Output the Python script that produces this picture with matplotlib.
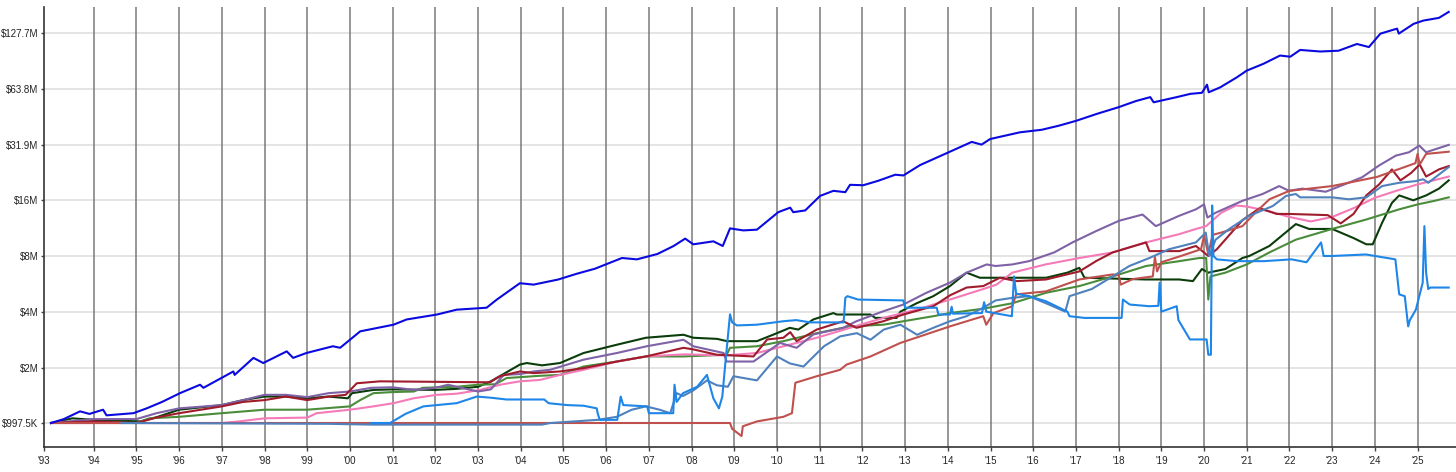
import matplotlib
matplotlib.use("Agg")
import matplotlib.pyplot as plt
import numpy as np

plt.rcParams['font.family'] = ['Liberation Sans', 'DejaVu Sans']

# ---------------- data (values in $ millions) ----------------
blue_t = [1993.0, 1993.3, 1993.68, 1993.9, 1994.22, 1994.3, 1994.93, 1995.24, 1995.6, 1996.02, 1996.49, 1996.57,
          1997.27, 1997.3, 1997.74, 1997.97, 1998.52, 1998.67, 1998.98, 1999.6, 1999.77, 2000.24, 2001.02, 2001.33,
          2002.04, 2002.5, 2003.2, 2003.44, 2003.98, 2004.3, 2004.88, 2005.3, 2005.74, 2006.37, 2006.72, 2007.2,
          2007.58, 2007.85, 2008.04, 2008.51, 2008.73, 2008.9, 2009.21, 2009.53, 2010.03, 2010.31, 2010.38, 2010.66,
          2011.01, 2011.32, 2011.6, 2011.71, 2012.02, 2012.37, 2012.77, 2012.96, 2013.35, 2014.05, 2014.56, 2014.79,
          2014.99, 2015.69, 2016.2, 2016.6, 2017.0, 2017.5, 2018.0, 2018.4, 2018.74, 2018.82, 2019.36, 2019.68,
          2019.95, 2020.07, 2020.11, 2020.38, 2020.77, 2021.0, 2021.39, 2021.78, 2022.02, 2022.25, 2022.72, 2023.15,
          2023.58, 2023.86, 2024.13, 2024.52, 2024.56, 2024.91, 2025.14, 2025.5, 2025.73]
blue_v = [1.0, 1.05, 1.156, 1.12, 1.18, 1.10, 1.13, 1.2, 1.3, 1.45, 1.61, 1.55,
          1.9, 1.82, 2.25, 2.11, 2.44, 2.25, 2.39, 2.6, 2.55, 3.13, 3.4, 3.63,
          3.86, 4.1, 4.2, 4.65, 5.7, 5.6, 5.97, 6.4, 6.83, 7.8, 7.67, 8.2,
          9.06, 9.93, 9.25, 9.6, 9.06, 11.28, 11.0, 11.1, 13.8, 14.6, 13.8, 14.1,
          16.9, 18.0, 17.7, 19.4, 19.3, 20.4, 22.0, 21.8, 24.8, 29.3, 33.1, 32.0,
          34.3, 37.3, 38.5, 40.5, 43.0, 47.0, 51.0, 55.0, 57.8, 54.2, 57.8, 60.2,
          61.0, 67.5, 61.4, 65.3, 74.0, 80.4, 87.5, 97.0, 95.6, 104.0, 102.0, 103.0,
          112.0, 107.8, 127.4, 135.6, 127.4, 144.0, 150.0, 155.0, 167.0]

purple_t = [1993.0, 1994.0, 1995.0, 1995.47, 1996.0, 1997.0, 1997.5, 1998.0, 1998.5, 1999.0, 1999.5, 2000.0,
            2000.5, 2001.0, 2001.5, 2002.0, 2002.3, 2002.6, 2003.0, 2003.3, 2003.6, 2004.0, 2004.3, 2004.69,
            2005.47, 2006.25, 2006.95, 2007.81, 2008.04, 2008.75, 2008.82, 2009.45, 2010.07, 2010.46, 2010.85,
            2011.55, 2011.86, 2012.49, 2012.96, 2013.5, 2014.05, 2014.44, 2014.91, 2015.12, 2015.51, 2015.9,
            2016.49, 2016.92, 2017.47, 2018.01, 2018.56, 2018.87, 2019.42, 2019.81, 2020.0, 2020.08, 2020.27,
            2020.9, 2021.37, 2021.76, 2021.99, 2022.3, 2022.85, 2023.31, 2023.7, 2024.09, 2024.49, 2024.8,
            2025.04, 2025.2, 2025.73]
purple_v = [1.0, 1.05, 1.05, 1.13, 1.2, 1.25, 1.33, 1.42, 1.42, 1.38, 1.45, 1.48,
            1.55, 1.56, 1.51, 1.55, 1.61, 1.55, 1.48, 1.52, 1.82, 1.84, 1.9, 1.94,
            2.2, 2.39, 2.6, 2.82, 2.6, 2.39, 2.15, 2.15, 2.71, 2.55, 3.01,
            3.27, 3.55, 4.02, 4.37, 5.06, 5.74, 6.5, 7.2, 7.06, 7.2, 7.5,
            8.36, 9.47, 10.9, 12.4, 13.4, 11.6, 13.2, 14.3, 15.2, 12.9, 13.7,
            15.9, 17.3, 19.1, 18.0, 18.5, 17.8, 19.6, 21.3, 24.6, 27.9, 29.1,
            31.6, 29.1, 31.9]

brick_t = [1993.0, 2008.9, 2008.95, 2009.17, 2009.2, 2009.53, 2010.15, 2010.35, 2010.43, 2010.93, 2011.48,
           2011.63, 2012.19, 2012.89, 2013.35, 2014.05, 2014.83, 2014.9, 2015.07, 2015.51, 2015.6, 2016.3,
           2017.08, 2017.86, 2018.0, 2018.05, 2018.33, 2018.8, 2018.85, 2018.9, 2019.0, 2019.46, 2019.93,
           2020.0, 2020.1, 2020.2, 2020.4, 2020.9, 2021.2, 2021.53, 2022.0, 2023.0, 2024.05, 2024.95, 2025.0,
           2025.05, 2025.2, 2025.73]
brick_v = [1.0, 1.0, 0.93, 0.85, 0.96, 1.02, 1.08, 1.13, 1.65, 1.79, 1.94,
           2.07, 2.29, 2.71, 2.94, 3.33, 3.78, 3.4, 3.93, 4.28, 4.96, 5.15,
           5.97, 6.36, 6.3, 5.6, 6.0, 6.2, 7.9, 6.6, 7.4, 8.0, 8.7,
           10.3, 8.2, 10.4, 10.7, 11.6, 13.7, 16.2, 18.0, 19.1, 21.4, 25.4, 28.5,
           25.0, 28.5, 29.3]

darkred_t = [1993.0, 1994.0, 1995.0, 1995.47, 1996.0, 1997.0, 1997.5, 1998.0, 1998.5, 1999.0, 1999.5, 1999.9,
             2000.16, 2000.7, 2003.28, 2003.51, 2003.98, 2004.3, 2004.92, 2005.47, 2006.25, 2006.93, 2007.81,
             2008.04, 2008.59, 2009.45, 2009.77, 2010.15, 2010.31, 2010.46, 2010.93, 2011.55, 2011.86, 2012.49,
             2012.96, 2013.66, 2014.05, 2014.44, 2014.83, 2015.22, 2015.61, 2016.3, 2017.08, 2017.47, 2017.86,
             2018.25, 2018.64, 2018.72, 2019.42, 2019.81, 2020.1, 2020.3, 2020.9, 2021.3, 2021.7, 2022.0,
             2022.9, 2023.2, 2023.5, 2023.8, 2024.1, 2024.4, 2024.6, 2024.85, 2025.05, 2025.2, 2025.5, 2025.73]
darkred_v = [1.0, 1.02, 1.0, 1.07, 1.13, 1.23, 1.3, 1.33, 1.39, 1.33, 1.39, 1.42,
             1.64, 1.68, 1.66, 1.79, 1.9, 1.86, 1.9, 1.98, 2.15, 2.29, 2.55,
             2.5, 2.34, 2.29, 2.83, 2.89, 3.1, 2.77, 3.2, 3.55, 3.27, 3.55,
             3.86, 4.28, 4.9, 5.4, 5.5, 6.1, 5.85, 5.97, 6.6, 7.5, 8.36,
             8.9, 9.47, 8.5, 8.5, 9.06, 8.0, 8.7, 12.5, 14.5, 13.5, 13.5,
             13.3, 12.0, 13.5, 17.0, 19.5, 23.5, 20.5, 22.5, 25.0, 21.5, 23.5, 24.5]

pink_t = [1993.0, 1997.0, 1997.4, 1998.0, 1999.0, 1999.22, 2000.0, 2000.55, 2001.02, 2001.49, 2002.03, 2002.5,
          2003.05, 2003.51, 2003.98, 2004.45, 2004.92, 2005.47, 2006.25, 2006.93, 2007.81, 2008.8, 2009.53,
          2010.15, 2010.93, 2011.71, 2012.49, 2013.27, 2014.05, 2014.83, 2015.14, 2015.51, 2016.29, 2017.08,
          2017.86, 2018.64, 2019.42, 2019.81, 2020.05, 2020.4, 2020.75, 2021.0, 2021.5, 2022.0, 2022.5, 2023.0,
          2023.5, 2024.0, 2024.5, 2025.0, 2025.73]
pink_v = [1.0, 1.0, 1.02, 1.06, 1.07, 1.13, 1.18, 1.23, 1.28, 1.36, 1.42, 1.44,
          1.51, 1.61, 1.68, 1.71, 1.82, 1.94, 2.15, 2.29, 2.35, 2.32, 2.39,
          2.6, 2.89, 3.27, 3.7, 4.1, 4.65, 5.3, 5.6, 6.5, 7.2, 7.8,
          8.36, 9.47, 10.5, 11.2, 11.6, 13.7, 15.0, 14.8, 14.0, 13.0, 12.3, 13.0,
          14.5, 16.5, 18.0, 19.5, 21.5]

dkgreen_t = [1993.0, 1993.5, 1994.0, 1995.1, 1995.5, 1996.0, 1997.0, 1997.5, 1998.0, 1998.5, 1999.0, 1999.5,
             1999.95, 2000.05, 2000.55, 2001.0, 2002.0, 2002.5, 2003.0, 2003.3, 2003.98, 2004.14, 2004.5, 2004.92,
             2005.47, 2006.25, 2006.93, 2007.81, 2008.04, 2008.6, 2008.83, 2009.53, 2010.0, 2010.3, 2010.5,
             2010.85, 2011.32, 2011.4, 2012.19, 2012.3, 2012.8, 2012.89, 2013.27, 2013.66, 2014.05, 2014.44,
             2014.75, 2016.3, 2016.8, 2017.08, 2017.2, 2018.64, 2019.42, 2019.74, 2019.95, 2020.1, 2020.5, 2020.9,
             2021.06, 2021.53, 2022.15, 2022.46, 2023.0, 2023.5, 2023.8, 2023.95, 2024.17, 2024.4, 2024.57,
             2024.9, 2025.2, 2025.5, 2025.73]
dkgreen_v = [1.0, 1.06, 1.04, 1.02, 1.08, 1.18, 1.25, 1.33, 1.39, 1.39, 1.36, 1.39,
             1.36, 1.45, 1.51, 1.52, 1.51, 1.53, 1.57, 1.68, 2.07, 2.11, 2.05, 2.11,
             2.39, 2.65, 2.89, 3.0, 2.89, 2.85, 2.77, 2.77, 3.06, 3.27, 3.2,
             3.63, 3.93, 3.86, 3.86, 3.7, 3.7, 4.0, 4.44, 4.85, 5.5, 6.5,
             6.1, 6.1, 6.5, 6.9, 6.1, 5.97, 5.97, 5.85, 6.8, 6.5, 6.8, 7.8,
             8.0, 9.06, 11.9, 11.2, 11.2, 10.0, 9.25, 9.25, 12.1, 15.5, 17.0,
             16.0, 17.0, 18.5, 20.5]

green_t = [1993.0, 1995.0, 1995.3, 1996.0, 1997.0, 1998.0, 1999.0, 2000.0, 2000.24, 2000.55, 2001.0, 2001.5,
           2001.7, 2002.5, 2003.0, 2003.4, 2003.67, 2004.45, 2004.92, 2005.47, 2006.25, 2006.93, 2007.81, 2008.82,
           2008.9, 2009.53, 2010.15, 2010.93, 2011.71, 2012.49, 2012.96, 2013.66, 2014.05, 2014.83, 2015.51,
           2016.3, 2017.08, 2017.86, 2018.64, 2019.42, 2019.89, 2020.05, 2020.1, 2020.15, 2020.5, 2021.0,
           2021.53, 2022.15, 2023.0, 2023.8, 2024.57, 2025.0, 2025.4, 2025.73]
green_v = [1.0, 1.0, 1.06, 1.08, 1.13, 1.18, 1.18, 1.23, 1.33, 1.45, 1.47, 1.48,
           1.55, 1.57, 1.61, 1.62, 1.75, 1.8, 1.82, 2.02, 2.15, 2.29, 2.29, 2.34,
           2.55, 2.6, 2.77, 3.06, 3.33, 3.4, 3.55, 3.78, 3.93, 4.15, 4.44,
           5.06, 5.5, 6.2, 7.06, 7.5, 7.8, 7.8, 4.65, 6.2, 6.5, 7.2,
           8.36, 9.8, 11.2, 12.6, 14.3, 15.2, 15.9, 16.6]

steel_t = [1994.65, 1999.5, 2000.5, 2004.5, 2004.69, 2005.8, 2006.25, 2006.6, 2006.93, 2007.25, 2007.5, 2007.65,
           2007.8, 2008.04, 2008.36, 2008.59, 2008.85, 2008.98, 2009.53, 2010.0, 2010.3, 2010.62, 2011.1, 2011.48,
           2011.87, 2012.19, 2012.5, 2012.89, 2013.28, 2013.66, 2014.05, 2014.44, 2014.83, 2015.12, 2015.51,
           2015.9, 2016.37, 2016.75, 2016.85, 2017.37, 2017.86, 2018.25, 2018.72, 2019.18, 2019.81, 2020.04,
           2020.12, 2020.27, 2020.59, 2021.06, 2021.61, 2021.92, 2022.15, 2022.25, 2023.0, 2023.39, 2023.8,
           2024.17, 2024.57, 2024.95, 2025.13, 2025.25, 2025.73]
steel_v = [1.0, 0.99, 0.98, 0.98, 1.0, 1.04, 1.08, 1.18, 1.23, 1.18, 1.13, 1.45,
           1.4, 1.5, 1.7, 1.6, 1.57, 1.79, 1.7, 2.29, 2.1, 2.02, 2.6, 2.94,
           3.06, 2.82, 3.2, 3.4, 3.0, 3.27, 3.55, 3.78, 4.2, 4.6, 4.75,
           4.85, 4.37, 4.0, 4.85, 5.3, 6.2, 7.06, 7.8, 8.7, 9.47, 10.7,
           8.0, 9.8, 11.2, 13.2, 14.9, 16.9, 17.3, 16.6, 16.6, 16.2, 16.6,
           19.1, 19.9, 20.3, 20.8, 19.9, 24.2]

bright_t = [2000.5, 2000.94, 2001.3, 2001.72, 2002.5, 2002.97, 2003.3, 2003.67, 2004.55, 2004.65, 2005.08, 2005.47,
            2005.78, 2005.8, 2005.85, 2006.26, 2006.34, 2006.4, 2006.96, 2007.0, 2007.57, 2007.6, 2007.65, 2007.8,
            2008.13, 2008.36, 2008.51, 2008.64, 2008.72, 2008.79, 2008.9, 2008.95, 2009.06, 2009.53, 2010.15,
            2010.45, 2010.78, 2011.56, 2011.6, 2011.65, 2011.9, 2012.96, 2013.0, 2013.74, 2013.78, 2014.05,
            2014.09, 2014.12, 2014.8, 2014.85, 2014.9, 2015.5, 2015.55, 2015.6, 2015.9, 2016.3, 2016.8, 2016.85,
            2017.2, 2018.07, 2018.1, 2018.26, 2018.72, 2018.93, 2018.96, 2019.0, 2019.36, 2019.4, 2019.67,
            2020.06, 2020.1, 2020.16, 2020.19, 2020.22, 2020.3, 2020.77, 2021.4, 2022.05, 2022.4, 2022.74,
            2022.8, 2023.01, 2023.79, 2024.48, 2024.57, 2024.7, 2024.78, 2024.82, 2024.96, 2025.12, 2025.16,
            2025.2, 2025.25, 2025.3, 2025.73]
bright_v = [1.0, 1.0, 1.12, 1.23, 1.28, 1.39, 1.37, 1.34, 1.34, 1.28, 1.25, 1.24,
            1.2, 1.13, 1.04, 1.04, 1.39, 1.25, 1.23, 1.13, 1.13, 1.61, 1.3, 1.45,
            1.57, 1.82, 1.36, 1.2, 1.39, 2.1, 3.87, 3.5, 3.37, 3.4, 3.55,
            3.6, 3.5, 3.5, 4.75, 4.85, 4.65, 4.6, 4.2, 4.2, 3.86, 3.86,
            4.25, 3.9, 3.93, 4.5, 4.0, 3.78, 6.2, 5.0, 4.85, 4.55, 4.0, 3.78,
            3.7, 3.7, 4.65, 4.37, 4.28, 4.3, 5.74, 4.0, 4.28, 3.6, 2.83,
            2.83, 2.34, 2.34, 15.0, 8.0, 7.67, 7.5, 7.5, 7.67, 7.4, 9.47,
            8.0, 8.0, 8.15, 7.67, 4.96, 4.85, 3.33, 3.6, 4.1, 5.74, 11.6,
            6.5, 5.3, 5.4, 5.4]

series = [
    ("dkgreen", dkgreen_t, dkgreen_v, "#0b3d0b"),
    ("green", green_t, green_v, "#4a8c3a"),
    ("pink", pink_t, pink_v, "#f57ab8"),
    ("purple", purple_t, purple_v, "#7f62a6"),
    ("darkred", darkred_t, darkred_v, "#a01c2c"),
    ("brick", brick_t, brick_v, "#c0504d"),
    ("steel", steel_t, steel_v, "#4f81bd"),
    ("bright", bright_t, bright_v, "#1e86e8"),
    ("blue", blue_t, blue_v, "#0a0ae0"),
]

ytick_vals = [0.9975, 1.995, 3.99, 7.98, 15.96, 31.9, 63.8, 127.7]
ytick_labels = ["$997.5K", "$2M", "$4M", "$8M", "$16M", "$31.9M", "$63.8M", "$127.7M"]
year_ticks = list(range(1994, 2026))
year_labels = ["'%02d" % (y % 100) for y in year_ticks]

# ---------------- figure ----------------
W, H = 1456, 472
fig = plt.figure(figsize=(W / 100, H / 100), dpi=100)
fig.patch.set_facecolor("white")
ax = fig.add_axes([44 / W, 24.7 / H, (W - 44) / W, (H - 7 - 24.7) / H])

x0, x1 = 1992.836, 2025.90
ax.set_xlim(x0, x1)
ax.set_yscale("log", base=2)
ax.set_ylim(0.739e6, 177.5e6)

for y in year_ticks:
    ax.axvline(y, color="#7a7a7a", lw=1.1, zorder=1)
for v in ytick_vals:
    ax.axhline(v * 1e6, color="#dddddd", lw=1.1, zorder=0.5)

for name, t, v, c in series:
    ax.plot(t, np.array(v) * 1e6, color=c, lw=1.5, zorder=3, solid_joinstyle="round")

ax.set_yticks([v * 1e6 for v in ytick_vals])
ax.set_yticklabels(ytick_labels)
ax.yaxis.set_minor_locator(matplotlib.ticker.NullLocator())
ax.set_xticks([x0] + year_ticks)
ax.set_xticklabels(["'93"] + year_labels)

ax.tick_params(axis="y", length=2, width=1, color="#444444", labelsize=7, labelcolor="#222222", pad=2)
ax.tick_params(axis="x", length=3, width=1, color="#444444", labelsize=7, labelcolor="#222222", pad=3)

for s in ["top", "right"]:
    ax.spines[s].set_visible(False)
ax.spines["left"].set_color("#333333")
ax.spines["left"].set_linewidth(1.2)
ax.spines["bottom"].set_color("#333333")
ax.spines["bottom"].set_linewidth(1.2)

fig.savefig("out.png", dpi=100, facecolor="white")
